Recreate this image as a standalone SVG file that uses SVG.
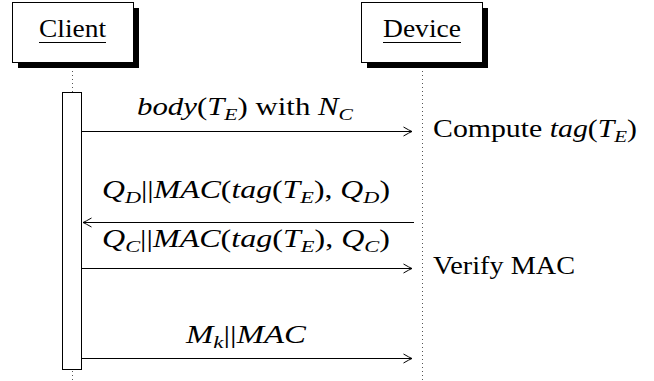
<svg xmlns="http://www.w3.org/2000/svg" width="654" height="381" viewBox="0 0 654 381">
  <style>
    .box { fill: #ffffff; stroke: #000000; stroke-width: 1; }
    .shadow { fill: #000000; }
    .life { stroke: #555555; stroke-width: 1; stroke-dasharray: 1 3; fill: none; }
    .msg { stroke: #000000; stroke-width: 1; fill: none; marker-end: url(#to); }
    .m { font-style: italic; }
    .s { font-size: 17.5px; font-style: italic; }
    .ul { stroke: #000000; stroke-width: 1; }
  </style>
  <defs>
    <marker id="to" viewBox="-9 -6 11 12" refX="0" refY="0" markerWidth="11" markerHeight="12" markerUnits="userSpaceOnUse" orient="auto">
      <path d="M -8.5 -4.5 Q -2.5 -1 0 0 Q -2.5 1 -8.5 4.5" fill="none" stroke="#000000" stroke-width="1"/>
    </marker>
  </defs>

  <rect width="654" height="381" fill="#ffffff"/>

  <!-- lifelines -->
  <g id="lifelines">
    <line class="life" x1="72.5" y1="63" x2="72.5" y2="92"/>
    <line class="life" x1="72.5" y1="371" x2="72.5" y2="381"/>
    <line class="life" x1="422.5" y1="63" x2="422.5" y2="381"/>
  </g>

  <g font-family="Liberation Serif, Times New Roman, serif" font-size="25" fill="#000000">
    <!-- participant: Client -->
    <g id="client">
      <rect class="shadow" x="18" y="8" width="121" height="60"/>
      <rect class="box" x="12.5" y="2.5" width="121" height="60"/>
      <text x="39" y="37" textLength="67" lengthAdjust="spacingAndGlyphs">Client</text>
      <line class="ul" x1="39" y1="42.5" x2="106" y2="42.5"/>
    </g>

    <!-- participant: Device -->
    <g id="device">
      <rect class="shadow" x="367" y="8" width="121" height="60"/>
      <rect class="box" x="361.5" y="2.5" width="121" height="60"/>
      <text x="383" y="37" textLength="78" lengthAdjust="spacingAndGlyphs">Device</text>
      <line class="ul" x1="383" y1="42.5" x2="461" y2="42.5"/>
    </g>

    <!-- activation bar on the client lifeline -->
    <g id="client-activation">
      <rect class="box" x="62.5" y="92.5" width="19" height="277"/>
    </g>

    <!-- messages -->
    <g id="connectors">
      <line class="msg" x1="82" y1="131.5" x2="412" y2="131.5"/>
      <line class="msg" x1="414" y1="222.5" x2="83" y2="222.5"/>
      <line class="msg" x1="82" y1="268.5" x2="412" y2="268.5"/>
      <line class="msg" x1="82" y1="358.5" x2="412" y2="358.5"/>
    </g>

    <!-- message labels -->
    <g id="labels">
      <text x="137" y="115" textLength="216" lengthAdjust="spacingAndGlyphs"><tspan class="m">body</tspan>(<tspan class="m">T</tspan><tspan class="s" dy="5">E</tspan><tspan dy="-5">) with </tspan><tspan class="m">N</tspan><tspan class="s" dy="5">C</tspan></text>
      <text x="102" y="198" textLength="288" lengthAdjust="spacingAndGlyphs"><tspan class="m">Q</tspan><tspan class="s" dy="5">D</tspan><tspan dy="-5">||</tspan><tspan class="m">MAC</tspan>(<tspan class="m">tag</tspan>(<tspan class="m">T</tspan><tspan class="s" dy="5">E</tspan><tspan dy="-5">), </tspan><tspan class="m">Q</tspan><tspan class="s" dy="5">D</tspan><tspan dy="-5">)</tspan></text>
      <text x="102" y="247" textLength="288" lengthAdjust="spacingAndGlyphs"><tspan class="m">Q</tspan><tspan class="s" dy="5">C</tspan><tspan dy="-5">||</tspan><tspan class="m">MAC</tspan>(<tspan class="m">tag</tspan>(<tspan class="m">T</tspan><tspan class="s" dy="5">E</tspan><tspan dy="-5">), </tspan><tspan class="m">Q</tspan><tspan class="s" dy="5">C</tspan><tspan dy="-5">)</tspan></text>
      <text x="186" y="343" textLength="120" lengthAdjust="spacingAndGlyphs"><tspan class="m">M</tspan><tspan class="s" dy="5">k</tspan><tspan dy="-5">||</tspan><tspan class="m">MAC</tspan></text>
    </g>

    <!-- device-side actions -->
    <g id="device-notes">
      <text x="433" y="137" textLength="204" lengthAdjust="spacingAndGlyphs">Compute <tspan class="m">tag</tspan>(<tspan class="m">T</tspan><tspan class="s" dy="5">E</tspan><tspan dy="-5">)</tspan></text>
      <text x="433" y="274" textLength="142" lengthAdjust="spacingAndGlyphs">Verify MAC</text>
    </g>
  </g>
</svg>
